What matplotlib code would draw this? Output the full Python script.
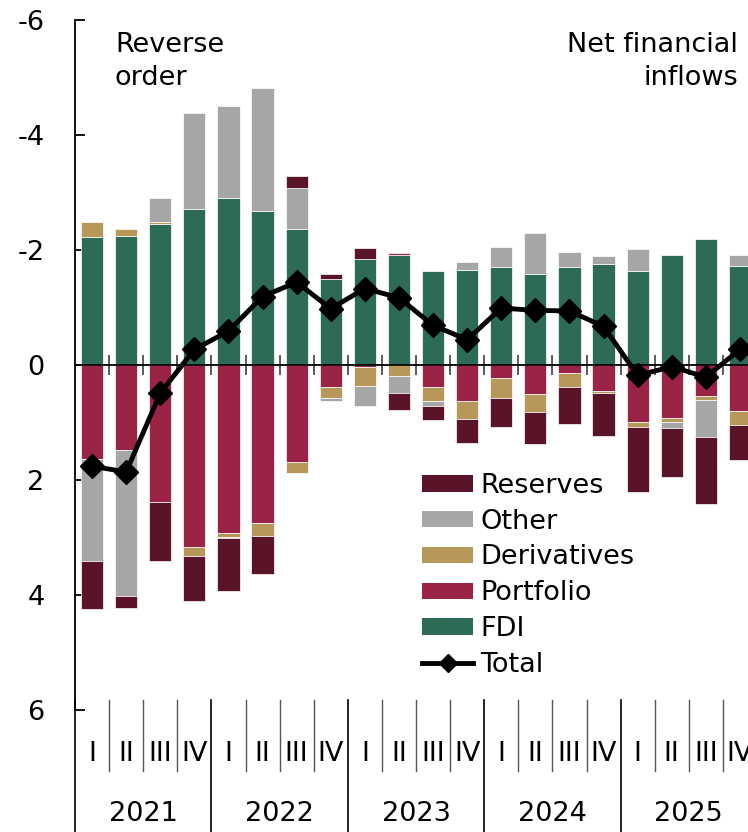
import numpy as np
import matplotlib.pyplot as plt
from matplotlib.patches import Patch
from matplotlib.lines import Line2D

plt.rcParams['font.family'] = 'DejaVu Sans'
plt.rcParams['axes.unicode_minus'] = False

years = ['2021', '2022', '2023', '2024', '2025']
quarters = ['I', 'II', 'III', 'IV']

# values as plotted on the (reversed) axis: negative = net inflow, drawn upwards
fdi = [-2.23, -2.25, -2.46, -2.71, -2.91, -2.68, -2.37, -1.49, -1.84, -1.92,
       -1.64, -1.65, -1.70, -1.58, -1.70, -1.76, -1.64, -1.91, -2.19, -1.73]
portfolio = [1.63, 1.47, 2.39, 3.17, 2.93, 2.74, 1.68, 0.38, 0.03, -0.03,
             0.39, 0.63, 0.23, 0.50, 0.14, 0.45, 0.99, 0.93, 0.54, 0.80]
derivatives = [-0.26, -0.12, -0.03, 0.15, 0.07, 0.23, 0.19, 0.20, 0.34, 0.19,
               0.24, 0.31, 0.34, 0.32, 0.25, 0.04, 0.08, 0.07, 0.07, 0.24]
other = [1.78, 2.55, -0.41, -1.67, -1.59, -2.14, -0.71, 0.05, 0.34, 0.29,
         0.08, -0.14, -0.35, -0.72, -0.26, -0.14, -0.37, 0.09, 0.65, -0.18]
reserves = [0.83, 0.21, 1.01, 0.78, 0.93, 0.66, -0.21, -0.10, -0.19, 0.30,
            0.25, 0.42, 0.50, 0.55, 0.64, 0.75, 1.13, 0.85, 1.15, 0.61]
total = [1.76, 1.86, 0.49, -0.27, -0.59, -1.19, -1.44, -0.98, -1.33, -1.17,
         -0.69, -0.44, -0.99, -0.95, -0.94, -0.67, 0.18, 0.03, 0.21, -0.27]

series = [('FDI', fdi, '#2d6a57'),
          ('Portfolio', portfolio, '#9b2346'),
          ('Derivatives', derivatives, '#b8975a'),
          ('Other', other, '#a6a6a6'),
          ('Reserves', reserves, '#5a1428')]

FS = 19.5
fig = plt.figure(figsize=(7.48, 8.32), dpi=100)
ax = fig.add_axes([75 / 748, 122 / 832, 682 / 748, 690 / 832])

n = len(total)
x = np.arange(n)
pos = np.zeros(n)
neg = np.zeros(n)
for name, vals, col in series:
    v = np.array(vals)
    bottom = np.where(v >= 0, pos, neg)
    ax.bar(x, v, 0.65, bottom=bottom, color=col, edgecolor='white',
           linewidth=0.5, zorder=2)
    pos = pos + np.where(v >= 0, v, 0)
    neg = neg + np.where(v < 0, v, 0)

ax.plot(x, total, color='black', lw=3.5, marker='D', markersize=12, zorder=5)

ax.set_xlim(-0.5, n - 0.5)
ax.set_ylim(6, -6)
ax.set_yticks([-6, -4, -2, 0, 2, 4, 6])
ax.set_yticklabels(['-6', '-4', '-2', '0', '2', '4', '6'], fontsize=FS)
ax.tick_params(axis='y', direction='in', length=7, width=1.3, pad=22)

for s in ['top', 'right']:
    ax.spines[s].set_visible(False)
ax.spines['left'].set_linewidth(1.3)
ax.spines['bottom'].set_position(('data', 0))
ax.spines['bottom'].set_linewidth(1.3)
ax.spines['bottom'].set_zorder(3)
ax.set_xticks(np.arange(n - 1) + 0.5)
ax.set_xticklabels([])
ax.tick_params(axis='x', direction='inout', length=14, width=1.2, color='#404040')

# category axis below the plot
tr = ax.get_xaxis_transform()
for i in range(n + 1):
    b = i - 0.5
    if i % 4 == 0:
        ax.plot([b, b], [0.0145, -0.18], transform=tr, color='black', lw=1.2, clip_on=False)
    else:
        ax.plot([b, b], [0.0145, -0.0884], transform=tr, color='#555555', lw=1.0, clip_on=False)
for i in range(n):
    ax.text(i, -0.064, quarters[i % 4], transform=tr, ha='center', va='center',
            fontsize=FS)
for j, yr in enumerate(years):
    ax.text(j * 4 + 1.5, -0.151, yr, transform=tr, ha='center', va='center',
            fontsize=FS)

fig.text(115 / 748, 1 - 32 / 832, 'Reverse\norder', ha='left', va='top',
         fontsize=FS, linespacing=1.33)
fig.text(738 / 748, 1 - 32 / 832, 'Net financial\ninflows', ha='right', va='top',
         fontsize=FS, linespacing=1.33)

handles = [Patch(facecolor=col, label=name) for name, vals, col in series[::-1]]
handles.append(Line2D([], [], color='black', lw=3.5, marker='D', markersize=9,
                      label='Total'))
ax.legend(handles=handles, loc='upper left', bbox_to_anchor=(422 / 748, 1 - 473 / 832),
          bbox_transform=fig.transFigure, frameon=False, fontsize=FS,
          handlelength=1.9, handleheight=0.55, handletextpad=0.25,
          labelspacing=0.36, borderpad=0, borderaxespad=0)

fig.savefig('out.png', dpi=100)
